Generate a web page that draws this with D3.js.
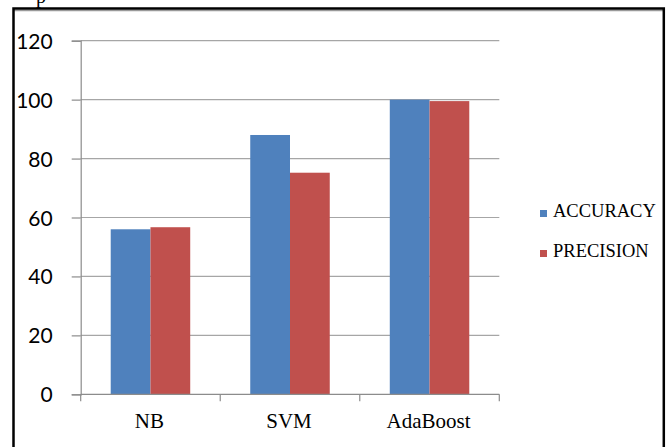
<!DOCTYPE html>
<html>
<head>
<meta charset="utf-8">
<script src="https://cdn.jsdelivr.net/npm/d3@7"></script>
<style>
  html, body { margin: 0; padding: 0; background: #fff; }
  svg { display: block; }
</style>
</head>
<body>
<svg id="chart" width="669" height="447"></svg>
<script>
// Classifier scores
const categories = ["NB", "SVM", "AdaBoost"];
const seriesNames = ["ACCURACY", "PRECISION"];
const accuracy = [56, 88, 100];
const precision = [56.7, 75.2, 99.5];
const yTicks = [0, 20, 40, 60, 80, 100, 120];
const seriesColors = ["#4F81BD", "#C0504D"];

const seriesValues = [accuracy, precision];
const svg = d3.select("#chart");

// Plot area
const plot = { left: 80.7, right: 499.3, top: 40.7, bottom: 394.3 };

const x0 = d3.scaleBand().domain(categories).range([plot.left, plot.right]).padding(0);
const x1 = d3.scaleBand().domain(seriesNames).range([0, x0.bandwidth()])
  .paddingInner(0).paddingOuter(0.755);
const y = d3.scaleLinear().domain([0, 120]).range([plot.bottom, plot.top]);

// Frame
svg.append("line").attr("x1", 14).attr("x2", 663).attr("y1", 10.6).attr("y2", 10.6)
  .attr("stroke", "#9a9a9a").attr("stroke-width", 1.5);
svg.append("path")
  .attr("d", `M13.5,450 V8.5 H663.8 V450`)
  .attr("fill", "none").attr("stroke", "#000").attr("stroke-width", 2.5);

// Fragment of text above the frame
svg.append("text").attr("x", 36).attr("y", 3)
  .attr("font-family", "Liberation Serif").attr("font-size", 20).attr("fill", "#000")
  .text("p");

// Horizontal gridlines
svg.append("g").selectAll("line").data(yTicks.filter(d => d > 0)).join("line")
  .attr("x1", plot.left).attr("x2", plot.right)
  .attr("y1", d => y(d)).attr("y2", d => y(d))
  .attr("stroke", "#a6a6a6").attr("stroke-width", 1.2);

// Y axis
const yAxis = d3.axisLeft(y).tickValues(yTicks).tickSize(9).tickPadding(19)
  .tickFormat(d3.format("d"));
const gy = svg.append("g").attr("transform", `translate(${plot.left},0)`).call(yAxis);
gy.select(".domain").attr("stroke", "#8c8c8c").attr("stroke-width", 1.2);
gy.selectAll(".tick line").attr("stroke", "#8c8c8c").attr("stroke-width", 1.2);
gy.selectAll(".tick text")
  .attr("font-family", "Lato, 'Open Sans', sans-serif").attr("font-size", 21)
  .attr("fill", "#000").attr("dy", "0.36em");

// Bars
const groups = svg.append("g").selectAll("g").data(categories).join("g")
  .attr("transform", d => `translate(${x0(d)},0)`);
groups.selectAll("rect")
  .data((c, i) => seriesNames.map((s, j) => ({ s, v: seriesValues[j][i], j })))
  .join("rect")
  .attr("x", d => x1(d.s))
  .attr("width", x1.bandwidth())
  .attr("y", d => y(d.v))
  .attr("height", d => y(0) - y(d.v))
  .attr("fill", d => seriesColors[d.j]);

// X axis
const tickPositions = categories.map(c => x0(c)).concat([plot.right]);
const gx = svg.append("g");
gx.append("line").attr("x1", plot.left).attr("x2", plot.right)
  .attr("y1", plot.bottom).attr("y2", plot.bottom)
  .attr("stroke", "#8c8c8c").attr("stroke-width", 1.2);
gx.selectAll("line.tk").data(tickPositions).join("line").attr("class", "tk")
  .attr("x1", d => d).attr("x2", d => d).attr("y1", plot.bottom).attr("y2", plot.bottom + 7)
  .attr("stroke", "#8c8c8c").attr("stroke-width", 1.2);
gx.selectAll("text").data(categories).join("text")
  .attr("x", d => x0(d) + x0.bandwidth() / 2 - 1)
  .attr("y", 428)
  .attr("text-anchor", "middle")
  .attr("font-family", "'Liberation Serif', 'Times New Roman', serif")
  .attr("font-size", 21).attr("fill", "#000")
  .text(d => d);

// Legend
const legend = svg.append("g").selectAll("g").data(seriesNames).join("g")
  .attr("transform", (d, i) => `translate(540,${217 + i * 40})`);
legend.append("rect").attr("x", 0).attr("y", -7).attr("width", 7).attr("height", 7)
  .attr("fill", (d, i) => seriesColors[i]);
legend.append("text").attr("x", 13).attr("y", 0)
  .attr("font-family", "'Liberation Serif', 'Times New Roman', serif")
  .attr("font-size", 18.5).attr("fill", "#000")
  .text(d => d);
</script>
</body>
</html>
